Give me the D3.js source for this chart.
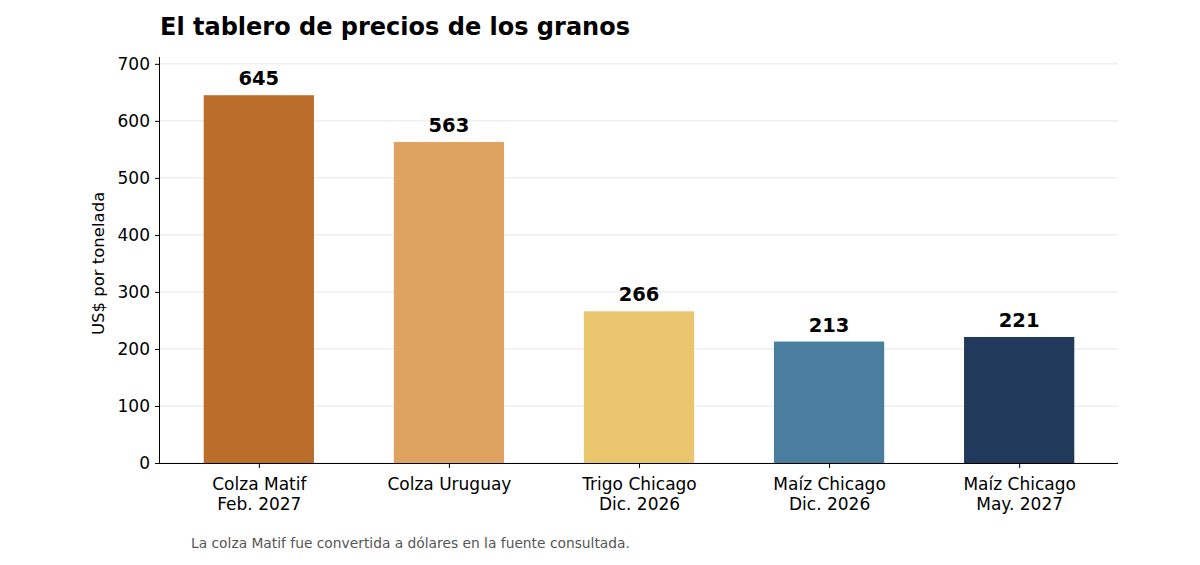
<!DOCTYPE html>
<html>
<head>
<meta charset="utf-8">
<script src="https://cdn.jsdelivr.net/npm/d3@7"></script>
<style>
  body { margin: 0; background: #fff; }
  svg text { font-family: "DejaVu Sans", sans-serif; }
</style>
</head>
<body>
<svg id="chart" width="1200" height="565"></svg>
<script>
// categories (two-line labels) and prices in US$ per tonne
const LABELS = [
  ["Colza Matif", "Feb. 2027"],
  ["Colza Uruguay"],
  ["Trigo Chicago", "Dic. 2026"],
  ["Maíz Chicago", "Dic. 2026"],
  ["Maíz Chicago", "May. 2027"],
];
const PRICES = [645, 563, 266, 213, 221];
const COLORS = ["#BA6B25", "#DDA15E", "#E9C46A", "#457B9D", "#1D3557"];
const Y_TICKS = [0, 100, 200, 300, 400, 500, 600, 700];

const config = {
  margin: { top: 57, left: 160, right: 82, bottom: 102 },
  width: 1200 - 160 - 82,
  height: 565 - 57 - 102,
};

const svg = d3
  .select("#chart")
  .append("g")
  .attr("transform", `translate(${config.margin.left}, ${config.margin.top})`);

// x position in category units, with padding like matplotlib
const xScale = d3
  .scaleLinear()
  .domain([-0.52, LABELS.length - 0.48])
  .range([0, config.width]);
const barWidth = xScale(0.58) - xScale(0);

// price scale (y-axis)
const yScale = d3
  .scaleLinear()
  .domain([0, 712])
  .range([config.height, 0]);

// horizontal grid
svg
  .append("g")
  .attr("class", "grid")
  .selectAll("line")
  .data(Y_TICKS)
  .join("line")
  .attr("x1", 0)
  .attr("x2", config.width)
  .attr("y1", (d) => yScale(d))
  .attr("y2", (d) => yScale(d))
  .attr("stroke", "#e6e6e6")
  .attr("stroke-width", 1);

// bars
svg
  .selectAll(".bar")
  .data(PRICES)
  .join("rect")
  .attr("class", "bar")
  .attr("x", (d, i) => xScale(i) - barWidth / 2)
  .attr("y", (d) => yScale(d))
  .attr("width", barWidth)
  .attr("height", (d) => config.height - yScale(d))
  .attr("fill", (d, i) => COLORS[i])
  .attr("fill-opacity", 0.98);

// value labels
svg
  .selectAll(".value")
  .data(PRICES)
  .join("text")
  .attr("class", "value")
  .attr("text-anchor", "middle")
  .attr("x", (d, i) => xScale(i))
  .attr("y", (d) => yScale(d) - 10)
  .attr("font-size", 19.5)
  .attr("font-weight", "bold")
  .attr("fill", "#000")
  .text((d) => d);

// y axis
const yAxis = svg
  .append("g")
  .attr("class", "axis axis-y")
  .call(d3.axisLeft(yScale).tickValues(Y_TICKS).tickSize(5).tickPadding(5));
yAxis.select(".domain").attr("d", `M-0.5,${config.height}V0`).attr("stroke", "#000");
yAxis.selectAll("text").attr("font-size", 17).attr("fill", "#000");

// x axis
const xAxis = svg
  .append("g")
  .attr("class", "axis axis-x")
  .attr("transform", `translate(0, ${config.height})`)
  .call(
    d3
      .axisBottom(xScale)
      .tickValues(d3.range(LABELS.length))
      .tickSize(5)
      .tickFormat("")
  );
xAxis.select(".domain").attr("d", `M0,0.5H${config.width}`).attr("stroke", "#000");

// multi-line category labels
xAxis
  .selectAll(".tick")
  .append("text")
  .attr("fill", "#000")
  .attr("font-size", 17)
  .attr("text-anchor", "middle")
  .selectAll("tspan")
  .data((d) => LABELS[d])
  .join("tspan")
  .attr("x", 0)
  .attr("y", (d, i) => 27 + i * 19.5)
  .text((d) => d);

// y-axis label
svg
  .append("text")
  .attr("class", "label label-y")
  .attr("text-anchor", "middle")
  .attr("transform", `translate(-56, ${yScale(350)}) rotate(-90)`)
  .attr("font-size", 16.5)
  .attr("fill", "#000")
  .text("US$ por tonelada");

// title
d3.select("#chart")
  .append("text")
  .attr("x", 160)
  .attr("y", 35)
  .attr("font-size", 24)
  .attr("font-weight", "bold")
  .attr("fill", "#000")
  .text("El tablero de precios de los granos");

// footnote
d3.select("#chart")
  .append("text")
  .attr("x", 191)
  .attr("y", 548)
  .attr("font-size", 13.8)
  .attr("fill", "#555")
  .text("La colza Matif fue convertida a dólares en la fuente consultada.");
</script>
</body>
</html>
